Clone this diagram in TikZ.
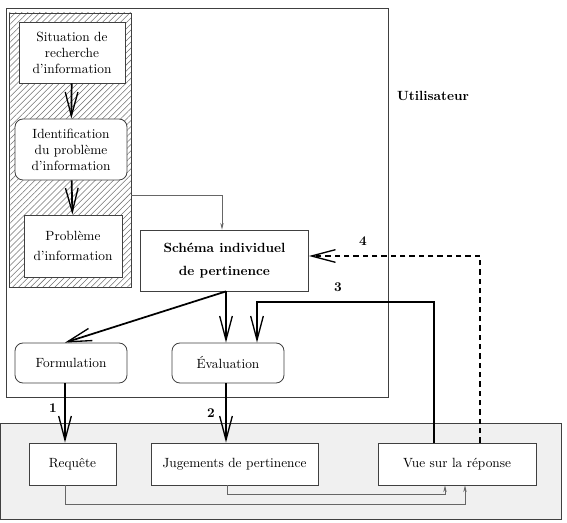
\documentclass[tikz,border=0pt]{standalone}
\usetikzlibrary{arrows.meta,patterns.meta,calc}
\begin{document}
\begin{tikzpicture}[x=0.75pt,y=-0.75pt,
    box/.style={draw=black!75, line width=0.6pt, fill=white, align=center, inner sep=0pt},
    rbox/.style={box, rounded corners=6pt},
    flow/.style={line width=1.3pt, -{Straight Barb[length=18pt,width=9.5pt,line width=1pt]}},
    link/.style={draw=black!60, line width=0.5pt, -{Stealth[length=5pt,width=2.5pt]}},
    num/.style={font=\bfseries}]
    \useasboundingbox (0,0) rectangle (567,523);

    % Systeme (bas)
    \draw[draw=black!75, line width=0.6pt, fill=black!6] (0,423) rectangle (561,519);
    % Utilisateur
    \draw[draw=black!75, line width=0.6pt] (6,8) rectangle (388,397);
    \node[font=\bfseries] (util) at (433,96) {Utilisateur};
    \draw[draw=black!75, line width=0.6pt, pattern={Lines[angle=45,distance=3.2pt,line width=0.4pt]}, pattern color=black!55] (9,13) rectangle (131,287);
    \coordinate (hatch) at (131,195);

    \node[box, minimum width=79.5pt, minimum height=45.75pt] (sit) at (72,52.5) {Situation de\\recherche\\d'information};
    \node[rbox, minimum width=84pt, minimum height=45.75pt] (ident) at (71,149.5) {Identification\\du probl\`eme\\d'information};
    \node[box, minimum width=73.5pt, minimum height=46.5pt] (prob) at (73,246) {Probl\`eme\\[3pt]d'information};
    \node[box, minimum width=126pt, minimum height=45.75pt, font=\bfseries] (schema) at (224.5,260.5) {Sch\'ema individuel\\[5pt]de pertinence};
    \node[rbox, minimum width=84pt, minimum height=30pt] (form) at (71,363) {Formulation};
    \node[rbox, minimum width=84pt, minimum height=30pt] (eval) at (228,363) {\'Evaluation};

    \node[box, minimum width=65.25pt, minimum height=31.5pt] (req) at (72.5,464) {Requ\^ete};
    \node[box, minimum width=125.25pt, minimum height=31.5pt] (jug) at (234.5,464) {Jugements de pertinence};
    \node[box, minimum width=118.5pt, minimum height=31.5pt] (vue) at (457,464) {Vue sur la r\'eponse};

    % reperes des fleches
    \coordinate (f1) at ($(form.south)+(-6,0)$);
    \coordinate (s1) at ($(schema.south)+(1.5,0)$);
    \coordinate (e2) at ($(eval.south)+(-2,0)$);
    \coordinate (e3) at ($(eval.north)+(29,0)$);
    \coordinate (v3) at ($(vue.north)+(-23,0)$);
    \coordinate (v4) at ($(vue.north)+(23,0)$);
    \coordinate (r1) at ($(req.south)+(-7.5,0)$);
    \coordinate (j1) at ($(jug.south)+(-7.5,0)$);

    \draw[flow] (sit) -- (ident);
    \draw[flow] (ident) -- (prob);
    \draw[link] (hatch) -| (schema.north -| 222,0);
    \draw[flow] (s1) -- ($(form.north)+(-6,0)$);
    \draw[flow] (s1) -- (s1 |- eval.north);
    \draw[flow] (f1) -- (f1 |- req.north);
    \draw[flow] (e2) -- (e2 |- jug.north);
    \draw[flow] (v3) -- (v3 |- 0,302) -| (e3);
    \draw[flow, dashed, dash pattern=on 4pt off 3pt] (v4) -- (v4 |- 0,256) -- (schema.east |- 0,256);
    \draw[link] (j1) -- (j1 |- 0,494) -| ($(vue.south)+(-12,0)$);
    \draw[link] (r1) -- (r1 |- 0,504) -| ($(vue.south)+(8,0)$);

    \node[num] (n1) at (53,408) {1};
    \node[num] (n2) at (211,413) {2};
    \node[num] (n3) at (338,287) {3};
    \node[num] (n4) at (363,241) {4};
\end{tikzpicture}
\end{document}
